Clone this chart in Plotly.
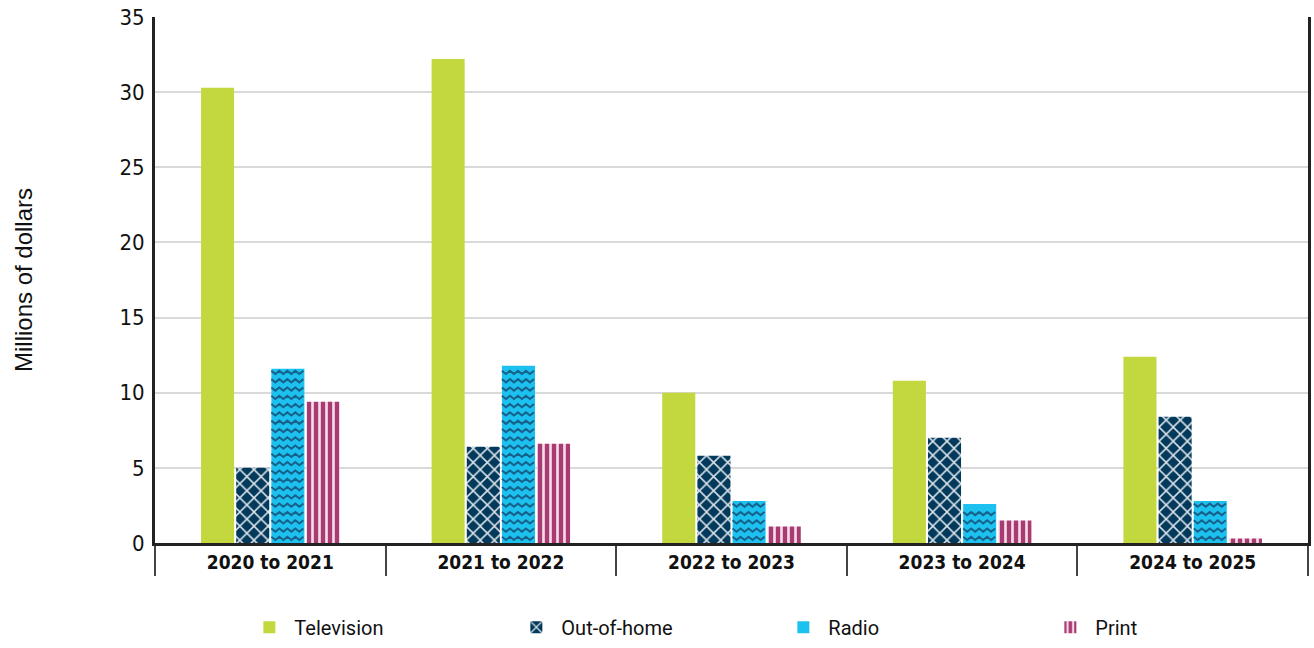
import plotly.graph_objects as go

# Advertising spend by medium, millions of dollars
years = ["2020 to 2021", "2021 to 2022", "2022 to 2023", "2023 to 2024", "2024 to 2025"]
television = [30.3, 32.2, 10.0, 10.8, 12.4]
out_of_home = [5.0, 6.4, 5.8, 7.0, 8.4]
radio = [11.6, 11.8, 2.8, 2.6, 2.8]
print_media = [9.4, 6.6, 1.1, 1.5, 0.3]

y_ticks = [0, 5, 10, 15, 20, 25, 30, 35]

BARGAP = 0.39
BARGROUPGAP = 0.06
N_SERIES = 4

COND = "DejaVu Sans Condensed, Liberation Sans Narrow, Roboto, sans-serif"

fig = go.Figure()

fig.add_trace(go.Bar(
    name="Television", x=years, y=television,
    marker=dict(color="#C3D83F", line=dict(width=0)),
))
fig.add_trace(go.Bar(
    name="Out-of-home", x=years, y=out_of_home,
    marker=dict(color="#033A5C", line=dict(width=0),
                pattern=dict(shape="x", fgcolor="#DCE4EA", bgcolor="#033A5C",
                             size=10, solidity=0.28, fgopacity=1)),
))
fig.add_trace(go.Bar(
    name="Radio", x=years, y=radio,
    marker=dict(color="#1DC1EF", line=dict(width=0)),
))
fig.add_trace(go.Bar(
    name="Print", x=years, y=print_media,
    marker=dict(color="#A93A72", line=dict(width=0),
                pattern=dict(shape="|", fgcolor="#F3DCE8", bgcolor="#A93A72",
                             size=7, solidity=0.38, fgopacity=1)),
))

# Zigzag texture on the radio bars, laid out from the grouped-bar geometry
slot = (1 - BARGAP) / N_SERIES
half_w = slot * (1 - BARGROUPGAP) / 2
k = 2  # radio is the third series in each group
px_x = 1 / 230.6   # data units per pixel along x
px_y = 1 / 15.03   # data units per pixel along y
period = 8 * px_x
row_step = 8.3 * px_y
amp = 1.6 * px_y

zx, zy = [], []
for i, v in enumerate(radio):
    cx = i - (1 - BARGAP) / 2 + slot * (k + 0.5)
    left, right = cx - half_w, cx + half_w
    yrow = row_step * 0.55
    while yrow + amp < v - 1.5 * px_y:
        x = left
        up = True
        while x <= right + 1e-9:
            zx.append(min(x, right))
            zy.append(yrow + (amp if up else -amp))
            up = not up
            x += period / 2
        zx.append(None)
        zy.append(None)
        yrow += row_step

fig.add_trace(go.Scatter(
    x=zx, y=zy, xaxis="x2", yaxis="y", mode="lines",
    line=dict(color="#17628A", width=2), showlegend=False, hoverinfo="skip",
))

fig.update_layout(
    width=1314, height=648,
    margin=dict(l=155, r=6, t=17, b=105, autoexpand=False),
    plot_bgcolor="white", paper_bgcolor="white",
    barmode="group", bargap=BARGAP, bargroupgap=BARGROUPGAP,
    showlegend=True,
    legend=dict(
        orientation="h", x=0.0775, xanchor="left", y=-0.123, yanchor="top",
        entrywidth=212, entrywidthmode="pixels",
        font=dict(family="Roboto, sans-serif", size=20, color="#111"),
        itemwidth=40, traceorder="normal",
    ),
    xaxis=dict(
        type="category", range=[-0.5, 4.5],
        showline=True, linecolor="#222", linewidth=3,
        ticks="outside", tickson="boundaries", ticklen=30, tickwidth=2, tickcolor="#444",
        tickfont=dict(family=COND, size=19, color="#111", weight="bold"),
        showgrid=False, zeroline=False,
    ),
    xaxis2=dict(
        overlaying="x", range=[-0.5, 4.5], visible=False, fixedrange=True,
    ),
    yaxis=dict(
        range=[0, 35], tickvals=y_ticks, ticktext=[str(t) for t in y_ticks],
        showline=True, linecolor="#222", linewidth=3, mirror=True,
        showgrid=True, gridcolor="#D9D9D9", gridwidth=1.5,
        zeroline=False, ticks="", ticklabelstandoff=3,
        tickfont=dict(family=COND, size=22, color="#111"),
        title=dict(text="Millions of dollars", standoff=81,
                   font=dict(family="Liberation Sans, sans-serif", size=24, color="#111")),
    ),
)

fig.write_html("out.html")
